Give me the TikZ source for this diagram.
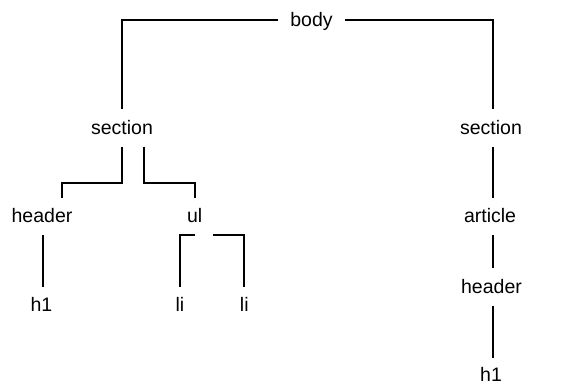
\documentclass[tikz,border=0pt]{standalone}
\usepackage{fontspec}
\setmainfont{Liberation Sans}
\begin{document}
\begin{tikzpicture}[x=1pt,y=-1pt,
  tag/.style={anchor=base,inner sep=0pt,outer sep=0pt,text height=25pt,text depth=12.5pt,font=\fontsize{19.5}{22}\selectfont},
  conn/.style={line width=2pt,line cap=butt,line join=miter}]
\useasboundingbox (0,0) rectangle (583,385);
\node[tag] (body) at (311.5,26.7) {body};
\node[tag] (secL) at (122,134) {section};
\node[tag] (secR) at (491,134) {section};
\node[tag] (hdrL) at (42,222.7) {header};
\node[tag] (ul) at (194.6,222.7) {ul};
\node[tag] (art) at (490,222.7) {article};
\node[tag] (h1L) at (41.5,311.7) {h1};
\node[tag] (li1) at (180,311.7) {li};
\node[tag] (li2) at (244.3,311.7) {li};
\node[tag] (hdrR) at (491.5,293.3) {header};
\node[tag,text depth=0pt,text height=23.5pt] (h1R) at (491,381) {h1};
\draw[conn] ([xshift=-12pt]body.west) -| (secL.north);
\draw[conn] ([xshift=12pt]body.east) -| ([xshift=1.5pt]secR.north);
\draw[conn] (secL.south) -- ++(0,36) -| ([xshift=20pt]hdrL.north);
\draw[conn] ([xshift=22pt]secL.south) -- ++(0,36) -| (ul.north);
\draw[conn] (ul.south) -| (li1.north);
\draw[conn] ([xshift=18pt]ul.south) -| (li2.north);
\draw[conn] ([xshift=0.7pt]hdrL.south) -- ([xshift=0.7pt]hdrL.south |- h1L.north);
\draw[conn] ([xshift=1.5pt]secR.south) -- ([xshift=1.5pt]secR.south |- art.north);
\draw[conn] ([xshift=2.5pt]art.south) -- ([xshift=2.5pt]art.south |- hdrR.north);
\draw[conn] ([xshift=1pt]hdrR.south) -- ([xshift=1pt]hdrR.south |- h1R.north);
\end{tikzpicture}
\end{document}
